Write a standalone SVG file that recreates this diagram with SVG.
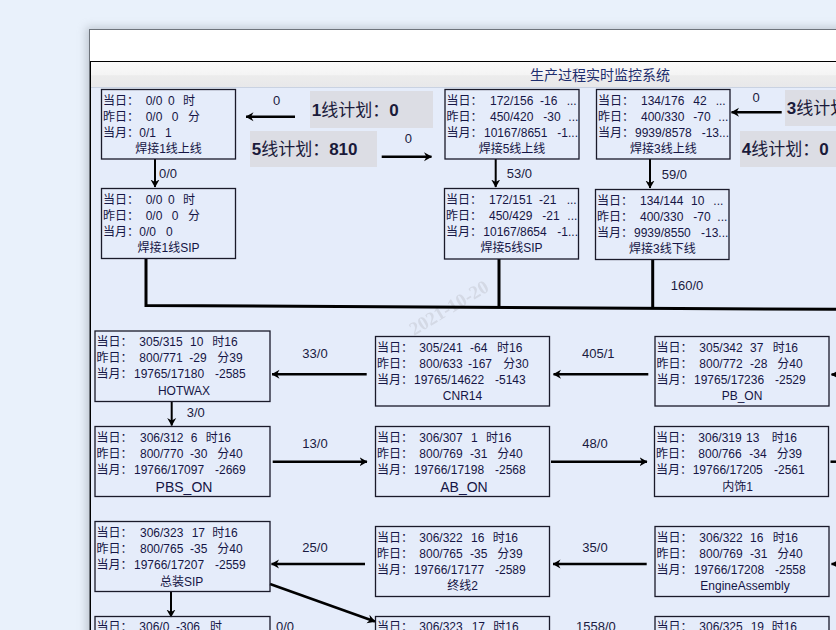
<svg xmlns="http://www.w3.org/2000/svg" width="836" height="630" viewBox="0 0 836 630">
<style>
text{font-family:"Liberation Sans","Noto Sans CJK SC",sans-serif;fill:#151545}
.t{font-size:12px}
.nm{font-size:12px;text-anchor:middle}
.nm2{font-size:14px;text-anchor:middle}
.el{font-size:13px;fill:#1a1a40}
.elm{font-size:13px;fill:#1a1a40;text-anchor:middle}
.pl{font-size:17px;fill:#1a1a3a}
.pl tspan.b{font-weight:bold}
.box{fill:none;stroke:#1a1a2a;stroke-width:1.3}
.plan{fill:#dcdde4}
.ar{stroke:#000;stroke-width:2.5;fill:none;marker-end:url(#ah)}
.av{stroke:#000;stroke-width:2;fill:none;marker-end:url(#ah)}
.ln{stroke:#000;stroke-width:3;fill:none}
</style>
<defs>
<marker id="ah" viewBox="0 0 8 10" refX="7.5" refY="5" markerWidth="8" markerHeight="10" markerUnits="userSpaceOnUse" orient="auto">
<path d="M0,0.5 L8,5 L0,9.5 L2.5,5 Z" fill="#000"/>
</marker>
<linearGradient id="tb" x1="0" y1="0" x2="0" y2="1">
<stop offset="0" stop-color="#fafafa"/>
<stop offset="0.5" stop-color="#f4f4f4"/>
<stop offset="0.55" stop-color="#ececec"/>
<stop offset="1" stop-color="#e8e8ea"/>
</linearGradient>
<filter id="sh" x="-10%" y="-10%" width="120%" height="120%">
<feGaussianBlur stdDeviation="4"/>
</filter>
</defs>
<rect width="836" height="630" fill="#e9f1fb"/>
<g id="window">
<rect x="86" y="27" width="800" height="640" fill="#9aa2ac" opacity="0.5" filter="url(#sh)"/>
<rect x="89.5" y="29.5" width="800" height="640" fill="#ffffff" stroke="#6e747c" stroke-width="1"/>
<rect x="91" y="62" width="745" height="25" fill="url(#tb)"/>
<line x1="91" y1="87.5" x2="836" y2="87.5" stroke="#c9d2e2" stroke-width="1"/>
<rect x="91" y="88" width="745" height="542" fill="#e5ecfa"/>
<line x1="90" y1="61.5" x2="836" y2="61.5" stroke="#000" stroke-width="1"/>
<line x1="90.5" y1="61" x2="90.5" y2="630" stroke="#000" stroke-width="1"/>
<text x="600" y="80" font-size="14" text-anchor="middle" style="fill:#1e2e6e">生产过程实时监控系统</text>
</g>
<text x="449" y="314" font-size="19" font-weight="bold" text-anchor="middle" transform="rotate(-31 449 308)" style="font-family:'Liberation Serif',serif;fill:#c9cdd8;opacity:0.6">2021-10-20</text>
<g id="plans">
<rect class="plan" x="310" y="91" width="123" height="37"/>
<text class="pl" x="311.7" y="115.5"><tspan class="b">1</tspan>线计划：<tspan class="b">0</tspan></text>
<rect class="plan" x="250" y="131" width="127" height="36"/>
<text class="pl" x="251.7" y="154.5"><tspan class="b">5</tspan>线计划：<tspan class="b">810</tspan></text>
<rect class="plan" x="785" y="90" width="60" height="36"/>
<text class="pl" x="786.7" y="114"><tspan class="b">3</tspan>线计划：<tspan class="b">0</tspan></text>
<rect class="plan" x="740" y="131" width="100" height="36"/>
<text class="pl" x="741.7" y="154.5"><tspan class="b">4</tspan>线计划：<tspan class="b">0</tspan></text>
</g>
<g id="connectors">
<line class="ar" x1="295" y1="116.7" x2="246" y2="116.7"/>
<line class="ar" x1="381.7" y1="156.7" x2="431.5" y2="156.7"/>
<line class="ar" x1="781.7" y1="112.3" x2="731.5" y2="112.3"/>
<line class="av" x1="155" y1="159" x2="155" y2="187"/>
<line class="av" x1="495.7" y1="159" x2="495.7" y2="187"/>
<line class="av" x1="650" y1="159" x2="650" y2="188"/>
<polyline class="ln" points="146,259 146,305.5 836,309.3"/>
<line class="ln" x1="499" y1="259" x2="499" y2="307.5"/>
<line class="ln" x1="652.7" y1="259" x2="652.7" y2="308.5"/>
<line class="ar" x1="648.3" y1="374.3" x2="553.5" y2="374.3"/>
<line class="ar" x1="366.7" y1="374.3" x2="272" y2="374.3"/>
<line class="ar" x1="850" y1="374.5" x2="831.5" y2="374.5"/>
<line class="av" x1="171.7" y1="401.7" x2="171.7" y2="425.5"/>
<line class="ar" x1="272.7" y1="461.7" x2="367" y2="461.7"/>
<line class="ar" x1="551" y1="461.7" x2="647" y2="461.7"/>
<line x1="830.5" y1="461.7" x2="840" y2="461.7" stroke="#000" stroke-width="2.5"/>
<line class="ar" x1="850" y1="564" x2="831.5" y2="564"/>
<line class="ar" x1="646.7" y1="564" x2="553" y2="564"/>
<line class="ar" x1="365" y1="564" x2="271.5" y2="564"/>
<line class="ar" x1="270" y1="584" x2="375" y2="621.5"/>
<line class="av" x1="171" y1="591.7" x2="171" y2="617"/>
<text class="elm" x="276.7" y="104.5">0</text>
<text class="elm" x="408.3" y="142.5">0</text>
<text class="elm" x="756" y="102">0</text>
<text class="el" x="159" y="178">0/0</text>
<text class="el" x="506.7" y="178">53/0</text>
<text class="el" x="661.7" y="179">59/0</text>
<text class="el" x="670.7" y="289.5">160/0</text>
<text class="elm" x="598.3" y="358">405/1</text>
<text class="elm" x="315" y="358">33/0</text>
<text class="el" x="186.7" y="417">3/0</text>
<text class="elm" x="315" y="448">13/0</text>
<text class="elm" x="595" y="448">48/0</text>
<text class="elm" x="595" y="552">35/0</text>
<text class="elm" x="315" y="552">25/0</text>
<text class="el" x="276" y="631">0/0</text>
<text class="el" x="576" y="631">1558/0</text>
</g>
<g id="n-hj1-up">
<rect class="box" x="101.5" y="89.5" width="134" height="69.5"/>
<text class="t" y="104.5"><tspan x="103">当日：</tspan><tspan x="145.7">0/0</tspan><tspan x="168">0</tspan><tspan x="183">时</tspan></text>
<text class="t" y="120.5"><tspan x="103">昨日：</tspan><tspan x="145.7">0/0</tspan><tspan x="171.7">0</tspan><tspan x="188">分</tspan></text>
<text class="t" y="136.5"><tspan x="103">当月：</tspan><tspan x="139.3">0/1</tspan><tspan x="165">1</tspan></text>
<text class="nm" x="168.5" y="152.5">焊接1线上线</text>
</g>
<g id="n-hj1-sip">
<rect class="box" x="101.5" y="188.5" width="134" height="70"/>
<text class="t" y="203.5"><tspan x="103">当日：</tspan><tspan x="145.7">0/0</tspan><tspan x="168">0</tspan><tspan x="183">时</tspan></text>
<text class="t" y="219.5"><tspan x="103">昨日：</tspan><tspan x="145.7">0/0</tspan><tspan x="171.7">0</tspan><tspan x="188">分</tspan></text>
<text class="t" y="235.5"><tspan x="103">当月：</tspan><tspan x="139.3">0/0</tspan><tspan x="166">0</tspan></text>
<text class="nm" x="168.5" y="252">焊接1线SIP</text>
</g>
<g id="n-hj5-up">
<rect class="box" x="445" y="89.5" width="134" height="69.5"/>
<text class="t" y="104.5"><tspan x="446.5">当日：</tspan><tspan x="490">172/156</tspan><tspan x="540">-16</tspan><tspan x="566.7">...</tspan></text>
<text class="t" y="120.5"><tspan x="446.5">昨日：</tspan><tspan x="490">450/420</tspan><tspan x="543.3">-30</tspan><tspan x="568.3">...</tspan></text>
<text class="t" y="136.5"><tspan x="446.5">当月：</tspan><tspan x="484">10167/8651</tspan><tspan x="557.3">-1...</tspan></text>
<text class="nm" x="512" y="152.5">焊接5线上线</text>
</g>
<g id="n-hj5-sip">
<rect class="box" x="444.5" y="188.5" width="134" height="70.5"/>
<text class="t" y="203.5"><tspan x="446">当日：</tspan><tspan x="489">172/151</tspan><tspan x="539">-21</tspan><tspan x="566.7">...</tspan></text>
<text class="t" y="219.5"><tspan x="446">昨日：</tspan><tspan x="489">450/429</tspan><tspan x="542.3">-21</tspan><tspan x="567.3">...</tspan></text>
<text class="t" y="235.5"><tspan x="446">当月：</tspan><tspan x="483.3">10167/8654</tspan><tspan x="557.3">-1...</tspan></text>
<text class="nm" x="511.5" y="252">焊接5线SIP</text>
</g>
<g id="n-hj3-up">
<rect class="box" x="596.5" y="89.5" width="133.5" height="69.5"/>
<text class="t" y="104.5"><tspan x="598">当日：</tspan><tspan x="641">134/176</tspan><tspan x="693.3">42</tspan><tspan x="715.7">...</tspan></text>
<text class="t" y="120.5"><tspan x="598">昨日：</tspan><tspan x="641">400/330</tspan><tspan x="693.3">-70</tspan><tspan x="718.3">...</tspan></text>
<text class="t" y="136.5"><tspan x="598">当月：</tspan><tspan x="635">9939/8578</tspan><tspan x="701.7">-13...</tspan></text>
<text class="nm" x="663.3" y="152.5">焊接3线上线</text>
</g>
<g id="n-hj3-down">
<rect class="box" x="595.5" y="189.5" width="133.5" height="70"/>
<text class="t" y="204.5"><tspan x="597">当日：</tspan><tspan x="640">134/144</tspan><tspan x="691">10</tspan><tspan x="713.3">...</tspan></text>
<text class="t" y="220.5"><tspan x="597">昨日：</tspan><tspan x="640">400/330</tspan><tspan x="693.3">-70</tspan><tspan x="717.3">...</tspan></text>
<text class="t" y="236.5"><tspan x="597">当月：</tspan><tspan x="634">9939/8550</tspan><tspan x="701">-13...</tspan></text>
<text class="nm" x="662.3" y="253">焊接3线下线</text>
</g>
<g id="n-hotwax">
<rect class="box" x="95" y="331" width="175" height="70.5"/>
<text class="t" y="346"><tspan x="96.5">当日：</tspan><tspan x="139.3">305/315</tspan><tspan x="190">10</tspan><tspan x="212.3">时16</tspan></text>
<text class="t" y="362"><tspan x="96.5">昨日：</tspan><tspan x="139.3">800/771</tspan><tspan x="189.3">-29</tspan><tspan x="217.3">分39</tspan></text>
<text class="t" y="378"><tspan x="96.5">当月：</tspan><tspan x="134">19765/17180</tspan><tspan x="215">-2585</tspan></text>
<text class="nm" x="184" y="395">HOTWAX</text>
</g>
<g id="n-cnr14">
<rect class="box" x="375.5" y="336.5" width="174" height="69.5"/>
<text class="t" y="351.5"><tspan x="377">当日：</tspan><tspan x="419.3">305/241</tspan><tspan x="470">-64</tspan><tspan x="497">时16</tspan></text>
<text class="t" y="367.5"><tspan x="377">昨日：</tspan><tspan x="419.3">800/633</tspan><tspan x="468">-167</tspan><tspan x="503.3">分30</tspan></text>
<text class="t" y="383.5"><tspan x="377">当月：</tspan><tspan x="414">19765/14622</tspan><tspan x="495">-5143</tspan></text>
<text class="nm" x="462.5" y="400">CNR14</text>
</g>
<g id="n-pb-on">
<rect class="box" x="655" y="336.5" width="174" height="69.5"/>
<text class="t" y="351.5"><tspan x="656.5">当日：</tspan><tspan x="699.3">305/342</tspan><tspan x="750">37</tspan><tspan x="772.7">时16</tspan></text>
<text class="t" y="367.5"><tspan x="656.5">昨日：</tspan><tspan x="699.3">800/772</tspan><tspan x="750">-28</tspan><tspan x="777.3">分40</tspan></text>
<text class="t" y="383.5"><tspan x="656.5">当月：</tspan><tspan x="694">19765/17236</tspan><tspan x="775">-2529</tspan></text>
<text class="nm" x="742" y="400">PB_ON</text>
</g>
<g id="n-pbs-on">
<rect class="box" x="95" y="426.5" width="175" height="70"/>
<text class="t" y="441.5"><tspan x="96.5">当日：</tspan><tspan x="140">306/312</tspan><tspan x="190.7">6</tspan><tspan x="205.7">时16</tspan></text>
<text class="t" y="457.5"><tspan x="96.5">昨日：</tspan><tspan x="140">800/770</tspan><tspan x="190">-30</tspan><tspan x="217.3">分40</tspan></text>
<text class="t" y="473.5"><tspan x="96.5">当月：</tspan><tspan x="134">19766/17097</tspan><tspan x="215">-2669</tspan></text>
<text class="nm2" x="184" y="491.5">PBS_ON</text>
</g>
<g id="n-ab-on">
<rect class="box" x="375.5" y="426.5" width="174" height="70"/>
<text class="t" y="441.5"><tspan x="377">当日：</tspan><tspan x="419.3">306/307</tspan><tspan x="471">1</tspan><tspan x="486">时16</tspan></text>
<text class="t" y="457.5"><tspan x="377">昨日：</tspan><tspan x="419.3">800/769</tspan><tspan x="470">-31</tspan><tspan x="497.3">分40</tspan></text>
<text class="t" y="473.5"><tspan x="377">当月：</tspan><tspan x="414">19766/17198</tspan><tspan x="495">-2568</tspan></text>
<text class="nm2" x="464" y="491.5">AB_ON</text>
</g>
<g id="n-trim1">
<rect class="box" x="654.5" y="426.5" width="174" height="70"/>
<text class="t" y="441.5"><tspan x="656">当日：</tspan><tspan x="698.3">306/319</tspan><tspan x="746">13</tspan><tspan x="771.7">时16</tspan></text>
<text class="t" y="457.5"><tspan x="656">昨日：</tspan><tspan x="698.3">800/766</tspan><tspan x="749.3">-34</tspan><tspan x="776.7">分39</tspan></text>
<text class="t" y="473.5"><tspan x="656">当月：</tspan><tspan x="692.7">19766/17205</tspan><tspan x="774">-2561</tspan></text>
<text class="nm" x="737.5" y="490.5">内饰1</text>
</g>
<g id="n-final-sip">
<rect class="box" x="95" y="521.5" width="175" height="70"/>
<text class="t" y="536.5"><tspan x="96.5">当日：</tspan><tspan x="140">306/323</tspan><tspan x="191.7">17</tspan><tspan x="212.3">时16</tspan></text>
<text class="t" y="552.5"><tspan x="96.5">昨日：</tspan><tspan x="140">800/765</tspan><tspan x="190">-35</tspan><tspan x="217.3">分40</tspan></text>
<text class="t" y="568.5"><tspan x="96.5">当月：</tspan><tspan x="134">19766/17207</tspan><tspan x="215">-2559</tspan></text>
<text class="nm" x="181.7" y="585.5">总装SIP</text>
</g>
<g id="n-final2">
<rect class="box" x="375.5" y="526.5" width="174" height="70"/>
<text class="t" y="541.5"><tspan x="377">当日：</tspan><tspan x="419.3">306/322</tspan><tspan x="471">16</tspan><tspan x="492.7">时16</tspan></text>
<text class="t" y="557.5"><tspan x="377">昨日：</tspan><tspan x="419.3">800/765</tspan><tspan x="470">-35</tspan><tspan x="497.3">分39</tspan></text>
<text class="t" y="573.5"><tspan x="377">当月：</tspan><tspan x="414">19766/17177</tspan><tspan x="495">-2589</tspan></text>
<text class="nm" x="462.5" y="590">终线2</text>
</g>
<g id="n-engine">
<rect class="box" x="655" y="526.5" width="174" height="70"/>
<text class="t" y="541.5"><tspan x="656.5">当日：</tspan><tspan x="699.3">306/322</tspan><tspan x="750">16</tspan><tspan x="772.7">时16</tspan></text>
<text class="t" y="557.5"><tspan x="656.5">昨日：</tspan><tspan x="699.3">800/769</tspan><tspan x="750">-31</tspan><tspan x="777.3">分40</tspan></text>
<text class="t" y="573.5"><tspan x="656.5">当月：</tspan><tspan x="694">19766/17208</tspan><tspan x="775">-2558</tspan></text>
<text class="nm" x="745" y="590">EngineAssembly</text>
</g>
<g id="n-b1">
<rect class="box" x="95" y="616.5" width="175" height="70"/>
<text class="t" y="631"><tspan x="96.5">当日：</tspan><tspan x="139.3">306/0</tspan><tspan x="176">-306</tspan><tspan x="210">时</tspan></text>
</g>
<g id="n-b2">
<rect class="box" x="375.5" y="616.5" width="174" height="70"/>
<text class="t" y="631"><tspan x="377">当日：</tspan><tspan x="419.3">306/323</tspan><tspan x="471.7">17</tspan><tspan x="493.3">时16</tspan></text>
</g>
<g id="n-b3">
<rect class="box" x="655" y="616.5" width="174" height="70"/>
<text class="t" y="631"><tspan x="656.5">当日：</tspan><tspan x="699.3">306/325</tspan><tspan x="750.7">19</tspan><tspan x="771.7">时16</tspan></text>
</g>
</svg>
